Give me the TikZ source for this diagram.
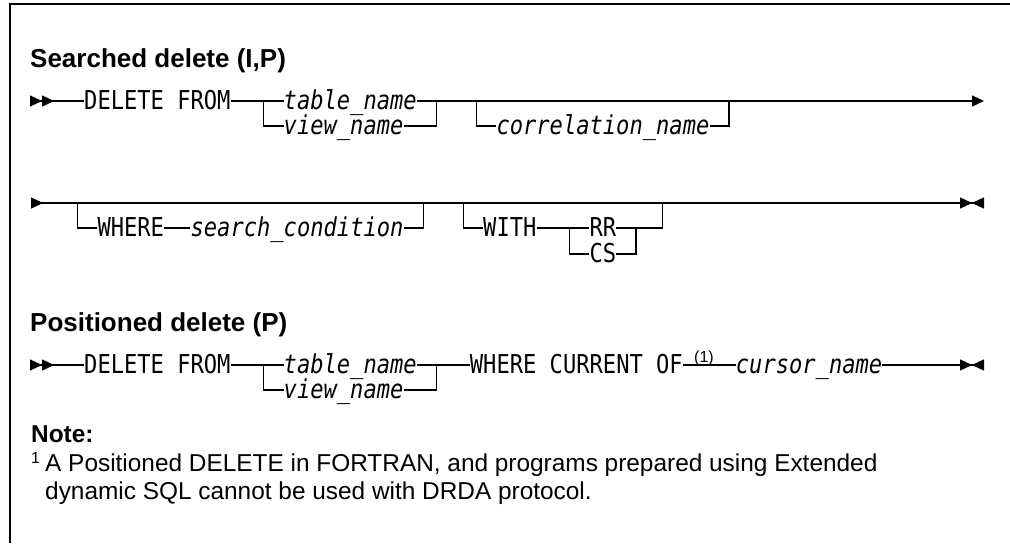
\documentclass[tikz,border=0pt]{standalone}
\usepackage{fontspec}
\setmainfont{Liberation Sans}
\newfontfamily\synfont[FakeStretch=0.85]{DejaVu Sans Mono}
\usepackage{tikz}
\usetikzlibrary{positioning, arrows.meta}

\newcommand{\synsize}{\fontsize{26pt}{28pt}\selectfont}

\tikzset{
  fwd/.tip={Triangle[length=12pt, width=11pt]},
  bwd/.tip={Triangle[length=12pt, width=11pt, reversed]}
}

\begin{document}
\begin{tikzpicture}[x=1pt, y=-1pt,
    rail/.style={line width=1.2pt, line join=miter},
    kw/.style={font=\synfont\synsize, anchor=west, inner sep=0pt, text height=20pt, text depth=4pt},
    var/.style={kw, font=\synfont\synsize\itshape},
    head/.style={font=\bfseries\fontsize{26pt}{30pt}\selectfont, anchor=base west, inner sep=0pt},
    ref/.style={font=\fontsize{16pt}{17pt}\selectfont, anchor=base, inner sep=0pt}]
      \useasboundingbox (0,0) rectangle (1010,546);

      % Frame
      \draw[line width=1.5pt] (10,543) -- (10,4) -- (1010,4);

      % Searched delete
      \node[head] (h1) at (30,67) {Searched delete (I,P)};

      % Row 1
      \coordinate (r1s) at (30,101);
      \node[kw] (del1) at (84,101) {DELETE FROM};
      \coordinate (j1a) at (263.5,101);
      \node[var] (tab1) at (283.5,101) {table\_name};
      \node[var] (view1) at (283.5,126) {view\_name};
      \coordinate (j1b) at (436.5,101);
      \coordinate (j1c) at (476.4,101);
      \node[var] (corr) at (496.3,126) {correlation\_name};
      \coordinate (j1d) at (729,101);
      \coordinate (r1e) at (984,101);

      \draw[rail, {bwd[] bwd[]}-] (r1s) -- (del1.west);
      \draw[rail] (del1.east) -- (tab1.west);
      \draw[rail] (j1a) |- (view1.west);
      \draw[rail] (view1.east) -| (j1b);
      \draw[rail, -{fwd[]}] (tab1.east) -- (r1e);
      \draw[rail] (j1c) |- (corr.west);
      \draw[rail] (corr.east) -| (j1d);

      % Row 2
      \coordinate (r2s) at (31,203);
      \coordinate (j2a) at (77.4,203);
      \node[kw] (where) at (97.3,228) {WHERE};
      \node[var] (cond) at (190.4,228) {search\_condition};
      \coordinate (j2b) at (423.2,203);
      \coordinate (j2c) at (463.1,203);
      \node[kw] (with) at (483,228) {WITH};
      \coordinate (j2d) at (569.5,228);
      \node[kw] (rr) at (589.4,228) {RR};
      \node[kw] (cs) at (589.4,254) {CS};
      \coordinate (j2e) at (636,228);
      \coordinate (j2f) at (662.6,203);
      \coordinate (r2e) at (984,203);

      \draw[rail, {bwd[]}-{fwd[] bwd[]}] (r2s) -- (r2e);
      \draw[rail] (j2a) |- (where.west);
      \draw[rail] (where.east) -- (cond.west);
      \draw[rail] (cond.east) -| (j2b);
      \draw[rail] (j2c) |- (with.west);
      \draw[rail] (with.east) -- (rr.west);
      \draw[rail] (j2d) |- (cs.west);
      \draw[rail] (cs.east) -| (j2e);
      \draw[rail] (rr.east) -- (j2e) -| (j2f);

      % Positioned delete
      \node[head] (h2) at (30,331) {Positioned delete (P)};

      % Row 3
      \coordinate (r3s) at (30,365);
      \node[kw] (del3) at (84,365) {DELETE FROM};
      \coordinate (j3a) at (263.5,365);
      \node[var] (tab3) at (283.5,365) {table\_name};
      \node[var] (view3) at (283.5,390) {view\_name};
      \coordinate (j3b) at (436.5,365);
      \node[kw] (wcur) at (469.7,365) {WHERE CURRENT OF};
      \node[var] (cur) at (735.7,365) {cursor\_name};
      \node[ref] (ref1) at (704,362) {(1)};
      \coordinate (r3e) at (984,365);

      \draw[rail, {bwd[] bwd[]}-] (r3s) -- (del3.west);
      \draw[rail] (del3.east) -- (tab3.west);
      \draw[rail] (j3a) |- (view3.west);
      \draw[rail] (view3.east) -| (j3b);
      \draw[rail] (tab3.east) -- (wcur.west);
      \draw[rail] (wcur.east) -- (cur.west);
      \draw[rail, -{fwd[] bwd[]}] (cur.east) -- (r3e);

      % Note
      \node[head, font=\bfseries\fontsize{24.4pt}{28pt}\selectfont] (note) at (31,442) {Note:};
      \node[ref, anchor=base west] (fnmark) at (31,463) {1};
      \node[anchor=base west, inner sep=0pt, align=left, font=\fontsize{24.4pt}{28pt}\selectfont] (foot) at (45,499)
        {A Positioned DELETE in FORTRAN, and programs prepared using Extended\\
         dynamic SQL cannot be used with DRDA protocol.};
    \end{tikzpicture}
\end{document}
